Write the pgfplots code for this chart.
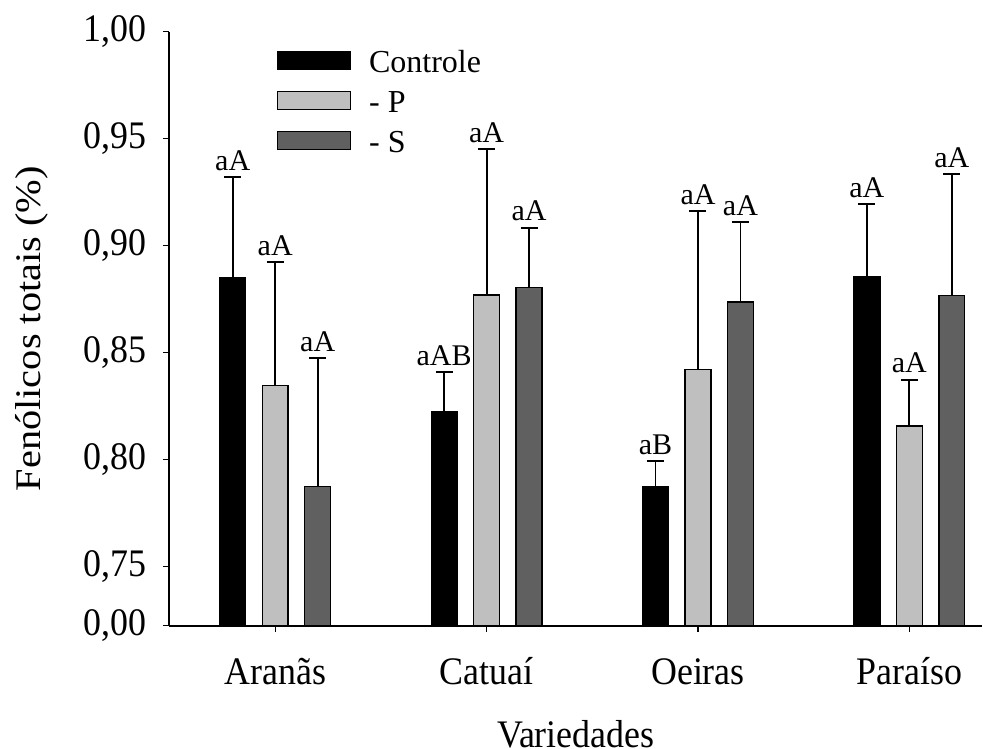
\documentclass[border=0pt]{standalone}
\usepackage{fontspec}
\setmainfont{Liberation Serif}
\newfontfamily\axfont{Liberation Serif}[FakeStretch=0.92]
\newfontfamily\ylfont{Liberation Serif}[FakeStretch=1.12]
\usepackage{pgfplots}
\pgfplotsset{compat=1.18}
\usepackage{pgfplotstable}

\definecolor{lightbar}{RGB}{191,191,191}
\definecolor{darkbar}{RGB}{96,96,96}

\pgfplotstableread{
x y e
-0.201 0.8848 0.0472
0.799 0.8226 0.0183
1.799 0.7872 0.0123
2.799 0.8854 0.0341
}\controle
\pgfplotstableread{
x y e
0 0.8347 0.0575
1 0.8770 0.0680
2 0.8422 0.0740
3 0.8157 0.0217
}\menosP
\pgfplotstableread{
x y e
0.201 0.7874 0.0599
1.201 0.8804 0.0280
2.201 0.8736 0.0375
3.201 0.8766 0.0568
}\menosS
\pgfplotstableread{
x y lab
-0.201 0.9320 aA
0 0.8922 aA
0.201 0.8473 aA
0.799 0.8409 aAB
1 0.9450 aA
1.201 0.9084 aA
1.799 0.7995 aB
2 0.9162 aA
2.201 0.9111 aA
2.799 0.9195 aA
3 0.8374 aA
3.201 0.9334 aA
}\labels

\pgfplotsset{
  mylegend/.style={legend image code/.code={\draw[##1, line width=0.7pt] (0pt,-2.6pt) rectangle (36.5pt,6.4pt);}},
  mybar/.style={ybar, bar width=0.122, bar shift=0pt, draw=black, line width=0.7pt, mylegend,
    error bars/y dir=plus, error bars/y explicit,
    error bars/error mark=|,
    error bars/error bar style={black, line width=0.95pt},
    error bars/error mark options={black, line width=0.95pt, mark size=4.25pt}},
}

\begin{document}
\begin{tikzpicture}
\begin{axis}[
  scale only axis, width=406.75pt, height=297pt,
  xmin=-0.5024, xmax=3.3458,
  ymin=0.7224, ymax=1,
  axis x line*=bottom, axis y line*=left,
  axis line style={line width=0.85pt, black, -},
  tick align=outside, major tick length=3pt,
  tick style={black, line width=0.7pt},
  xtick={0,1,2,3},
  xticklabels={Aranãs,Catuaí,Oeiras,Paraíso},
  ytick={0.7224,0.75,0.8,0.85,0.9,0.95,1},
  yticklabels={{0,00},{0,75},{0,80},{0,85},{0,90},{0,95},{1,00}},
  minor tick num=0,
  ticklabel style={font=\axfont\fontsize{19.5}{22}\selectfont, inner sep=0pt},
  xticklabel style={anchor=base, yshift=-26.5pt},
  yticklabel style={anchor=east, xshift=-8.2pt},
  xlabel={Variedades},
  ylabel={Fenólicos totais (\%)},
  every axis x label/.style={at={(axis description cs:0.5,0)}, anchor=base, yshift=-60.8pt, inner sep=0pt, font=\axfont\fontsize{19.5}{22}\selectfont},
  every axis y label/.style={at={(axis description cs:-0.1684,0.5)}, rotate=90, anchor=center, inner sep=0pt, font=\ylfont\fontsize{18}{21}\selectfont},
  legend style={draw=none, fill=none, at={(axis description cs:0.1324,0.9687)}, anchor=north west,
    inner sep=0pt, outer sep=0pt, row sep=6pt, column sep=9pt,
    nodes={inner sep=0pt, text height=11pt, text depth=3pt},
    font=\fontsize{16}{19}\selectfont},
  legend cell align=left,
  clip=true,
]
\addplot[fill=black, mybar] table[x=x, y=y, y error=e] {\controle};
\addplot[fill=lightbar, mybar] table[x=x, y=y, y error=e] {\menosP};
\addplot[fill=darkbar, mybar] table[x=x, y=y, y error=e] {\menosS};
\legend{Controle, - P, - S}
\addplot[draw=none, forget plot, nodes near coords, point meta=explicit symbolic,
  every node near coord/.append style={font=\fontsize{15}{18}\selectfont, anchor=base, inner sep=0pt, yshift=3.35pt, text=black}]
  table[x=x, y=y, meta=lab] {\labels};
\end{axis}
\path (current axis.south west) ++(-84.5pt,-61.65pt) coordinate (bl);
\path (current axis.north east) ++(0.25pt,15.85pt) coordinate (tr);
\pgfresetboundingbox
\path[use as bounding box] (bl) rectangle (tr);
\end{tikzpicture}
\end{document}
